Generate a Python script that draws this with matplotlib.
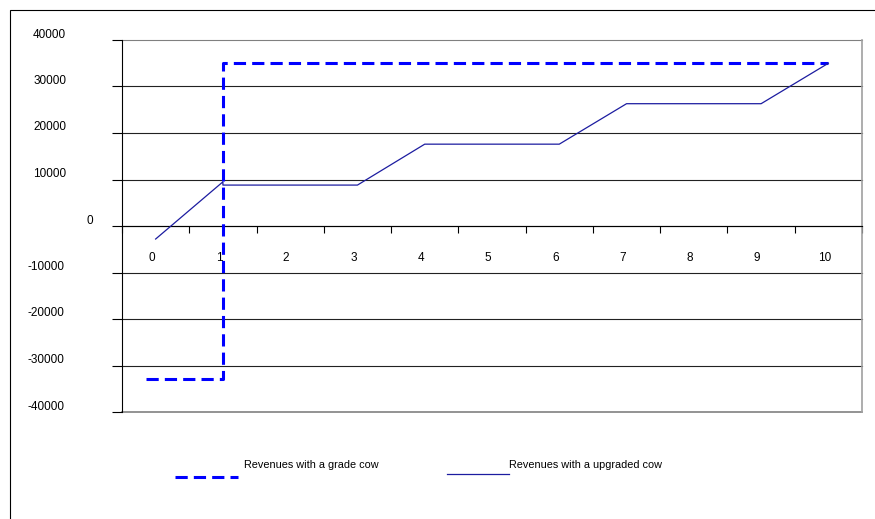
import numpy as np
import matplotlib
matplotlib.use('Agg')
import matplotlib.pyplot as plt
import matplotlib.transforms as mtransforms
from matplotlib.lines import Line2D
from matplotlib.patches import Rectangle

plt.rcParams['font.family'] = ['Liberation Sans', 'DejaVu Sans']
plt.rcParams['axes.unicode_minus'] = False

years = list(range(11))

# grade cow: paid for up front, sold after the first year
grade_x = [-0.15, 1.0, 1.0, 10.0]
grade_y = [-33000, -33000, 35000, 35000]

# upgraded cow: revenue builds up in steps
upgraded_x = [0, 1, 1, 3, 4, 6, 7, 9, 10]
upgraded_y = [-2800, 9500, 8800, 8800, 17600, 17600, 26300, 26300, 35000]

y_ticks = [-40000, -30000, -20000, -10000, 0, 10000, 20000, 30000, 40000]
y_labels = [str(v) for v in y_ticks]

grade_label = 'Revenues with a grade cow'
upgraded_label = 'Revenues with a upgraded cow'

W, H = 875, 519
fig = plt.figure(figsize=(W / 100, H / 100), dpi=100)
ax = fig.add_axes([122 / W, 1 - 412 / H, 740 / W, 372 / H])

ax.plot(grade_x, grade_y, color='#0000ff', lw=2.2, linestyle=(0, (4, 2)),
        dash_capstyle='butt', zorder=3)
ax.plot(upgraded_x, upgraded_y, color='#1c1ca0', lw=0.9, zorder=4)

ax.set_xlim(-0.5, 10.5)
ax.set_ylim(-40000, 40000)

ax.set_yticks(y_ticks, y_labels)
ax.grid(axis='y', color='#222222', lw=0.8)
ax.set_axisbelow(True)

ax.spines['top'].set_visible(False)
ax.spines['right'].set_color('#a0a0a0')
ax.spines['right'].set_linewidth(1.2)
ax.spines['left'].set_color('#000000')
ax.spines['left'].set_linewidth(0.8)
ax.spines['bottom'].set_position(('data', 0))
ax.spines['bottom'].set_color('#000000')
ax.spines['bottom'].set_linewidth(0.8)

ax.set_xticks(years, [str(y) for y in years])
ax.set_xticks(np.arange(-0.5, 10.6, 1), minor=True)
ax.tick_params(axis='x', which='major', length=0, pad=19, labelsize=8.5)
ax.tick_params(axis='x', which='minor', length=5, width=0.8, direction='out')
ax.tick_params(axis='y', length=7.2, width=0.8, pad=33, labelsize=8.5)

# keep the top and bottom gridlines whole (they sit on the plot edges)
for gl in ax.get_ygridlines():
    gl.set_clip_on(False)
ax.get_ygridlines()[0].set_color('#808080')
ax.get_ygridlines()[0].set_linewidth(1.2)
ax.get_ygridlines()[-1].set_color('#808080')

# Excel-style label offsets
for lbl in ax.get_yticklabels():
    dx = 0.27 if lbl.get_text() == '0' else 0.0
    if lbl.get_text().startswith('-'):
        dx = -0.02
    lbl.set_transform(lbl.get_transform() +
                      mtransforms.ScaledTranslation(dx, 0.07, fig.dpi_scale_trans))
for lbl in ax.get_xticklabels():
    lbl.set_transform(lbl.get_transform() +
                      mtransforms.ScaledTranslation(-0.04, 0, fig.dpi_scale_trans))

# legend drawn by hand below the plot
fig.add_artist(Line2D([175 / W, 238 / W], [1 - 477 / H] * 2, color='#0000ff', lw=2.2,
                      linestyle=(0, (4, 2)), dash_capstyle='butt'))
fig.text(244 / W, 1 - 465 / H, grade_label, fontsize=7.8, va='center', ha='left')
fig.add_artist(Line2D([447 / W, 509 / W], [1 - 474 / H] * 2, color='#1c1ca0', lw=0.9))
fig.text(509 / W, 1 - 465 / H, upgraded_label, fontsize=7.8, va='center', ha='left')

# outer chart frame
fig.add_artist(Rectangle((9.5 / W, -0.1), 1.2, 1.1 - 9.5 / H, transform=fig.transFigure,
                         fill=False, edgecolor='#000000', lw=0.8, clip_on=False))

fig.savefig('out.png', dpi=100)
